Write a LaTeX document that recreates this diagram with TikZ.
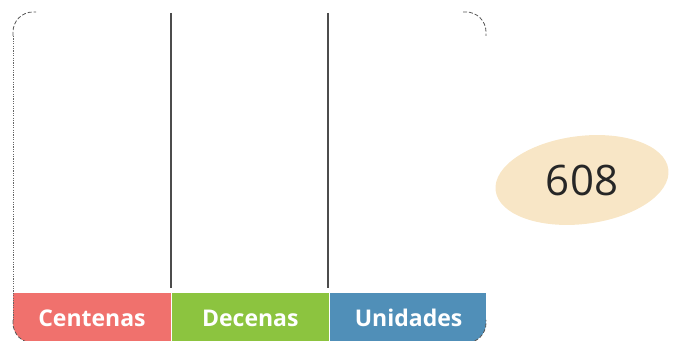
\documentclass[tikz,border=0pt]{standalone}
\usepackage{fontspec}
\setmainfont{Open Sans}
\usetikzlibrary{positioning,shapes.geometric}
\definecolor{cenred}{HTML}{F0716D}
\definecolor{decgreen}{HTML}{8CC43F}
\definecolor{uniblue}{HTML}{508FB8}
\definecolor{numbeige}{HTML}{F8E6C6}
\begin{document}
\begin{tikzpicture}[x=0.5pt,y=-0.5pt,
    band/.style={rectangle, minimum width=78.75pt, minimum height=25pt,
        inner sep=0pt, text=white, font=\fontsize{11.5}{14}\selectfont\bfseries},
    divider/.style={line width=0.9pt, black!70, shorten >=2.5pt},
    corner/.style={draw=black!65, dash pattern=on 2pt off 1pt,
        line width=0.4pt, rounded corners=10pt},
    side/.style={draw=black!60, dash pattern=on 0.6pt off 0.6pt, line width=0.4pt}
]
    \useasboundingbox (0,0) rectangle (681,341);
    % bands at the bottom, clipped to the frame
    \begin{scope}
        \clip[rounded corners=10pt] (13,12) rectangle (486,343);
        \node[band, fill=cenred] (cen) at (92,318) {Centenas};
        \node[band, fill=decgreen, right=0pt of cen] (dec) {Decenas};
        \node[band, fill=uniblue, right=0pt of dec] (uni) {Unidades};
    \end{scope}
    % frame: only the corners and the left side show
    \draw[corner] (13,36) |- (36,12);
    \draw[corner] (463,12) -| (486,36);
    \draw[corner] (13,320) |- (36,343);
    \draw[corner] (463,343) -| (486,320);
    \draw[side] (13,36) -- (13,320);
    \coordinate (d1) at (171,13);
    \coordinate (d2) at (328,13);
    \draw[divider] (d1) -- (d1 |- dec.north);
    \draw[divider] (d2) -- (d2 |- uni.north);
    % number
    \fill[numbeige, rotate around={7:(582,180)}] (582,180) ellipse (87 and 44);
    \node[font=\fontsize{21}{24}\selectfont, text=black!85] (num) at (582,180) {608};
\end{tikzpicture}
\end{document}
